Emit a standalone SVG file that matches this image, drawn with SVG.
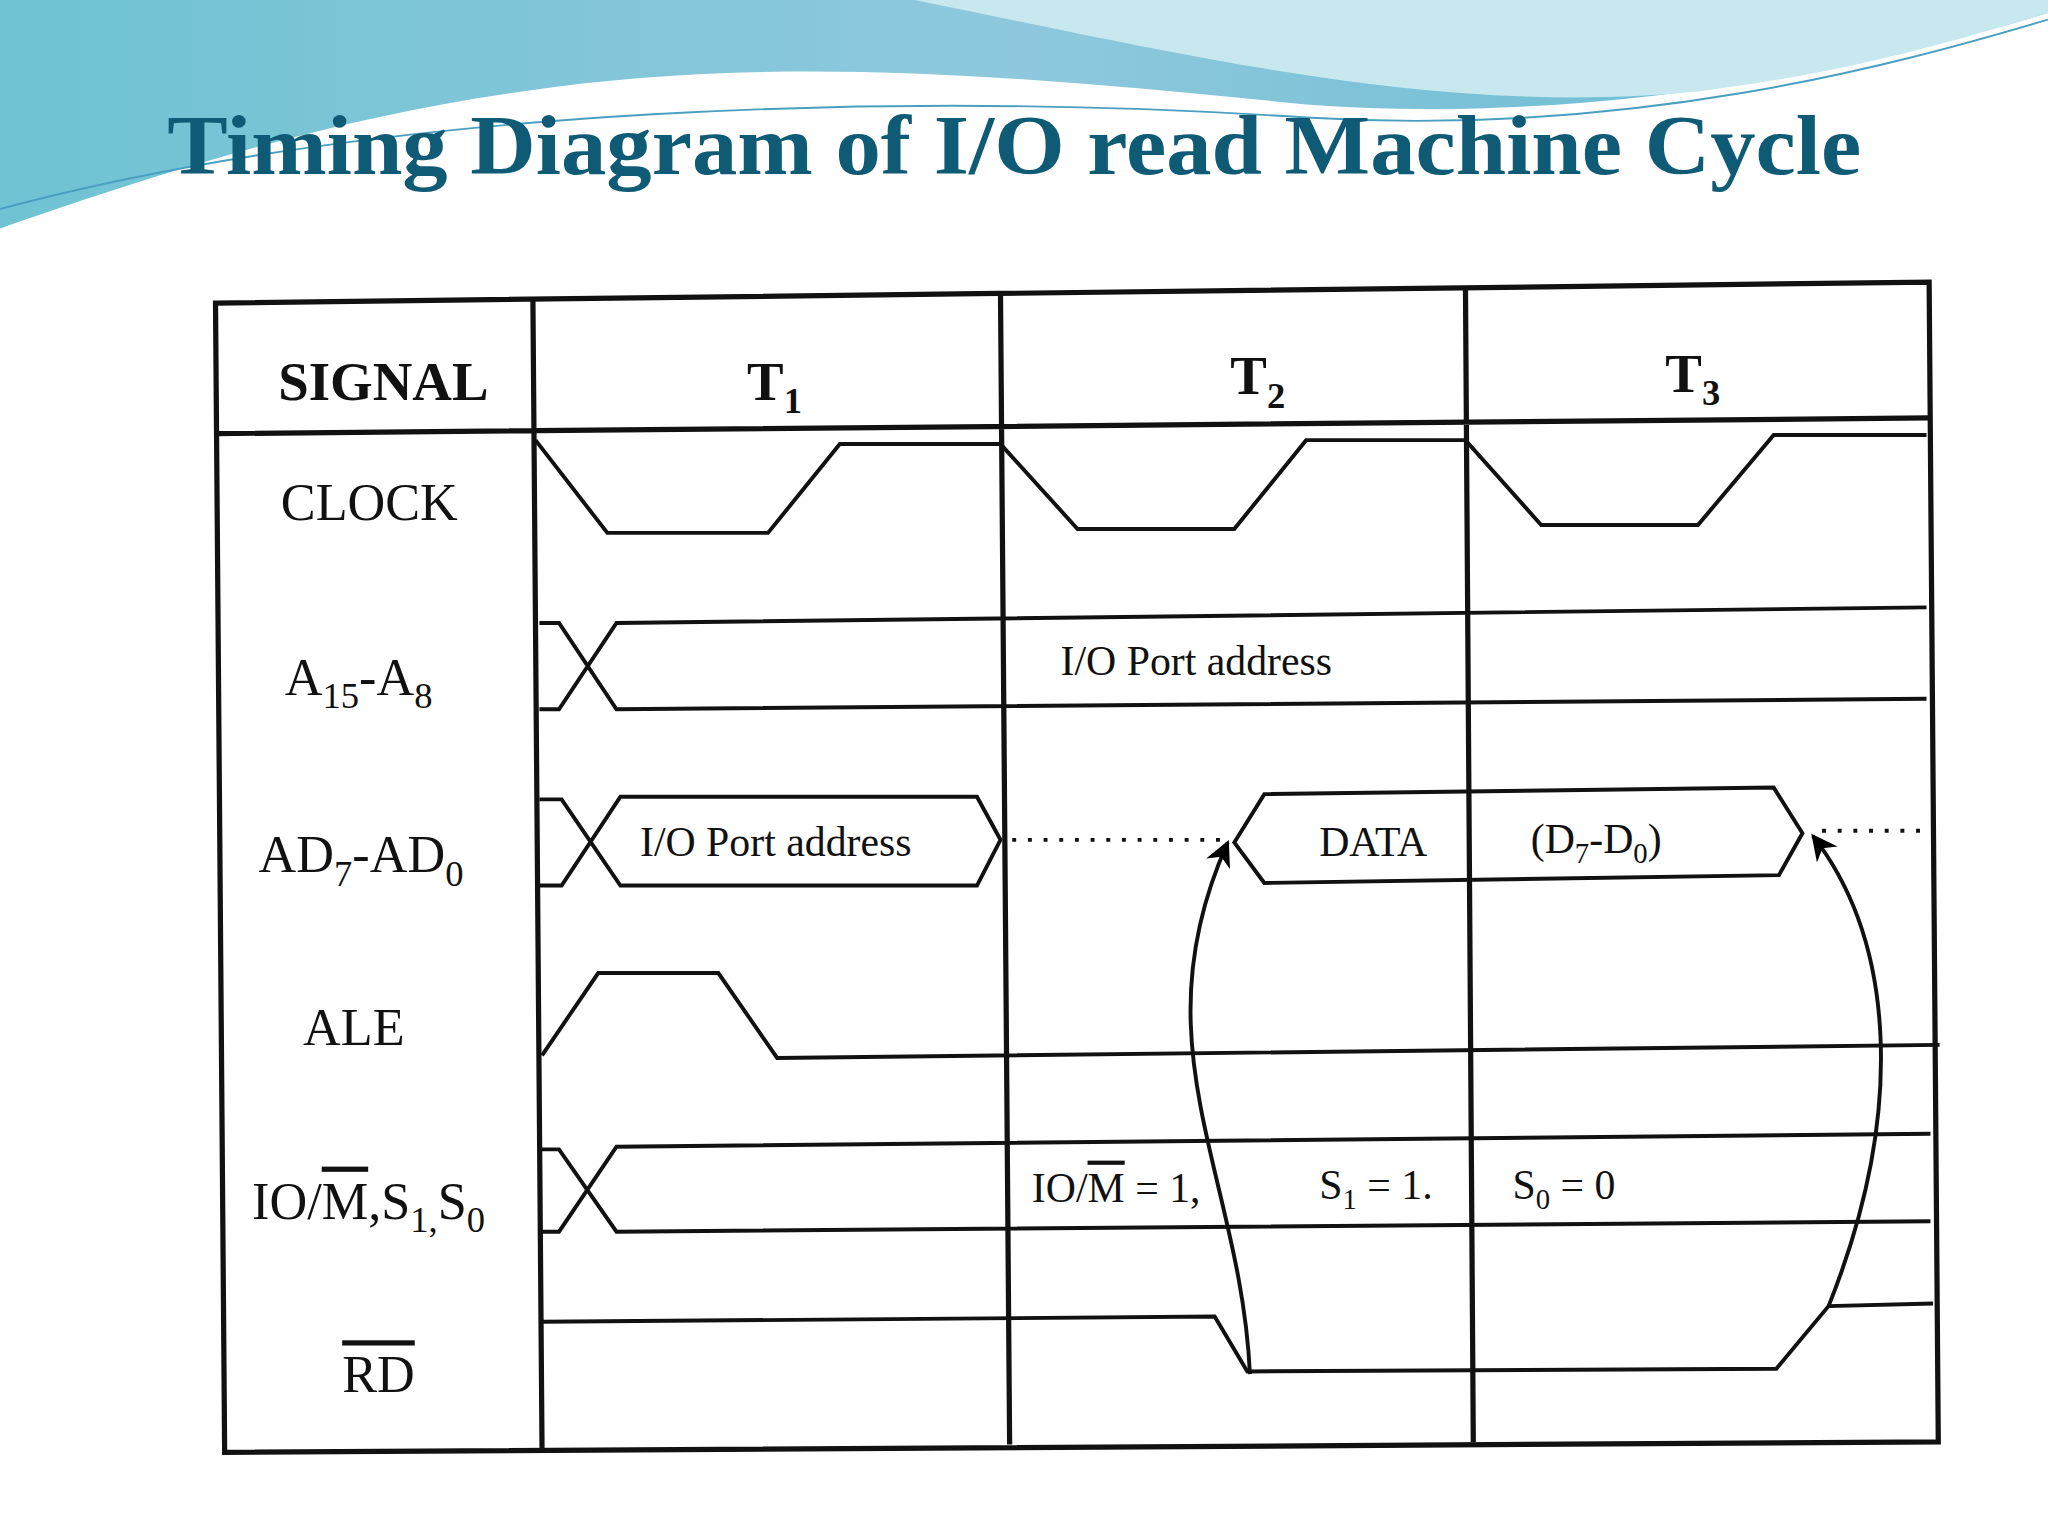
<svg xmlns="http://www.w3.org/2000/svg" width="2048" height="1536" viewBox="0 0 2048 1536">
<defs>
<linearGradient id="bg" x1="0" y1="0" x2="1" y2="0"><stop offset="0" stop-color="#6fc3d3"/><stop offset="0.5" stop-color="#8fc8dc"/><stop offset="1" stop-color="#5fb9d0"/></linearGradient>
<marker id="ah" viewBox="0 0 10 10" refX="9" refY="5" markerWidth="26" markerHeight="20" orient="auto" markerUnits="userSpaceOnUse"><path d="M0,0 L10,5 L0,10 L3,5 z" fill="#000"/></marker>
<style>
.ln{fill:none;stroke:#111;stroke-width:3}
.gr{fill:none;stroke:#111;stroke-width:4}
.dot{fill:none;stroke:#111;stroke-width:3;stroke-dasharray:3 9}
.lb{font-family:"Liberation Serif",serif;font-size:40px;fill:#111}
.sm{font-family:"Liberation Serif",serif;font-size:32px;fill:#111}
.hd{font-family:"Liberation Serif",serif;font-size:42px;font-weight:bold;fill:#111}
</style>
</defs>
<rect width="2048" height="1536" fill="#fff"/>
<g transform="scale(1.30612)">
<g id="background">
<path d="M0,0 H1568 V10 C1400,60 1200,95 1000,80 C800,60 600,40 400,70 C250,90 100,140 0,175 Z" fill="url(#bg)"/>
<path d="M700,0 C900,40 1100,90 1300,70 C1420,55 1500,30 1568,10 V0 Z" fill="#c8e8ef"/>
<path d="M0,160 C300,80 700,70 1000,90 C1250,105 1450,50 1568,15" fill="none" stroke="#4a9fc0" stroke-width="1.5"/>
</g>
<text id="title" x="128" y="133" textLength="1297" lengthAdjust="spacingAndGlyphs" font-family="Liberation Serif,serif" font-size="64" font-weight="bold" fill="#0f5a75">Timing Diagram of I/O read Machine Cycle</text>
<g id="table">
<path class="gr" d="M165,232 L1477,216 L1484,1104 L172,1112 Z"/>
<path class="gr" d="M408,228 L415,1110 M766,224 L773,1106 M1122,220 L1128,1104 M165,332 L1477,320"/>
</g>
<g id="labels">
<text class="hd" x="213" y="306">SIGNAL</text>
<text class="hd" x="572" y="306">T<tspan font-size="28" dy="10">1</tspan></text>
<text class="hd" x="942" y="302">T<tspan font-size="28" dy="10">2</tspan></text>
<text class="hd" x="1275" y="300">T<tspan font-size="28" dy="10">3</tspan></text>
<text class="lb" x="215" y="398">CLOCK</text>
<text class="lb" x="218" y="532">A<tspan font-size="28" dy="10">15</tspan><tspan dy="-10">-A</tspan><tspan font-size="28" dy="10">8</tspan></text>
<text class="lb" x="198" y="668">AD<tspan font-size="28" dy="10">7</tspan><tspan dy="-10">-AD</tspan><tspan font-size="28" dy="10">0</tspan></text>
<text class="lb" x="232" y="800">ALE</text>
<text class="lb" x="193" y="933">IO/<tspan text-decoration="overline">M</tspan>,S<tspan font-size="28" dy="10">1,</tspan><tspan dy="-10">S</tspan><tspan font-size="28" dy="10">0</tspan></text>
<text class="lb" x="262" y="1066" text-decoration="overline">RD</text>
<text class="sm" x="812" y="517">I/O Port address</text>
<text class="sm" x="490" y="655">I/O Port address</text>
<text class="sm" x="1010" y="655" font-family="Liberation Sans,sans-serif" font-size="28">DATA</text>
<text class="sm" x="1172" y="653">(D<tspan font-size="22" dy="8">7</tspan><tspan dy="-8">-D</tspan><tspan font-size="22" dy="8">0</tspan><tspan dy="-8">)</tspan></text>
<text class="sm" x="790" y="920">IO/<tspan text-decoration="overline">M</tspan> = 1,</text>
<text class="sm" x="1010" y="918">S<tspan font-size="22" dy="8">1</tspan><tspan dy="-8"> = 1.</tspan></text>
<text class="sm" x="1158" y="918">S<tspan font-size="22" dy="8">0</tspan><tspan dy="-8"> = 0</tspan></text>
</g>
<g id="connectors">
<path class="ln" d="M410,337 L465,408 L588,408 L643,340 L766,340 L825,405 L945,405 L1000,337 L1122,337 L1180,402 L1300,402 L1358,333 L1475,333"/>
<path class="ln" d="M413,477 L428,477 L472,543 L1475,535 M413,543 L428,543 L472,477 L1475,465"/>
<path class="ln" d="M413,612 L430,612 L475,678 L748,678 L766,643 L748,610 L475,610 L430,678 L413,678"/>
<path class="dot" d="M775,643 L940,643"/>
<path class="ln" d="M945,645 L968,608 L1358,603 L1380,638 L1362,670 L968,676 Z"/>
<path class="dot" d="M1395,636 L1475,636"/>
<path class="ln" d="M415,808 L458,745 L550,745 L595,810 L1485,800"/>
<path class="ln" d="M413,880 L428,880 L472,943 L1478,935 M413,943 L428,943 L472,878 L1478,868"/>
<path class="ln" d="M415,1012 L930,1008 L955,1050 L1360,1048 L1400,1000 L1480,998"/>
<path class="ln" marker-end="url(#ah)" d="M957,1052 C950,900 870,800 940,645"/>
<path class="ln" marker-end="url(#ah)" d="M1400,1000 C1460,850 1450,720 1388,640"/>
</g>
</g>
</svg>
